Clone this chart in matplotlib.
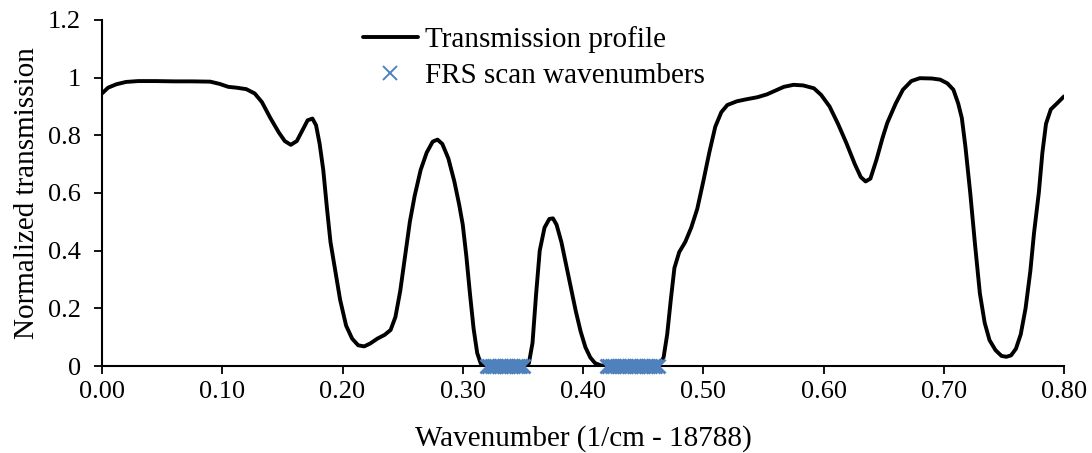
import matplotlib
matplotlib.use("Agg")
import matplotlib.pyplot as plt
from matplotlib.ticker import FormatStrFormatter, FuncFormatter

plt.rcParams['font.family'] = ['Liberation Serif', 'DejaVu Serif']

wavenumber = [0.000, 0.005, 0.012, 0.020, 0.030, 0.045, 0.060, 0.075, 0.090, 0.098,
              0.105, 0.112, 0.120, 0.127, 0.133, 0.140, 0.147, 0.152, 0.157, 0.162,
              0.167, 0.171, 0.175, 0.178, 0.181, 0.184, 0.187, 0.190, 0.194, 0.198,
              0.203, 0.208, 0.213, 0.218, 0.223, 0.229, 0.235, 0.240, 0.244, 0.248,
              0.252, 0.256, 0.260, 0.265, 0.270, 0.275, 0.279, 0.283, 0.288, 0.293,
              0.297, 0.300, 0.303, 0.306, 0.309, 0.312, 0.315, 0.318, 0.352, 0.355,
              0.358, 0.361, 0.364, 0.368, 0.372, 0.375, 0.378, 0.382, 0.386, 0.390,
              0.394, 0.398, 0.402, 0.406, 0.410, 0.415, 0.420, 0.463, 0.467, 0.470,
              0.473, 0.476, 0.480, 0.485, 0.490, 0.495, 0.500, 0.505, 0.510, 0.515,
              0.520, 0.528, 0.536, 0.545, 0.553, 0.560, 0.567, 0.575, 0.583, 0.592,
              0.598, 0.605, 0.612, 0.619, 0.626, 0.631, 0.635, 0.639, 0.644, 0.649,
              0.653, 0.660, 0.666, 0.673, 0.680, 0.690, 0.697, 0.703, 0.708, 0.712,
              0.715, 0.718, 0.722, 0.726, 0.730, 0.734, 0.738, 0.743, 0.748, 0.752,
              0.756, 0.760, 0.764, 0.768, 0.772, 0.775, 0.779, 0.782, 0.785, 0.789,
              0.794, 0.800]
transmission = [0.945, 0.965, 0.977, 0.985, 0.988, 0.988, 0.987, 0.987, 0.986, 0.978,
                0.968, 0.965, 0.960, 0.945, 0.915, 0.860, 0.810, 0.780, 0.767, 0.780,
                0.820, 0.852, 0.858, 0.835, 0.770, 0.680, 0.550, 0.430, 0.330, 0.230,
                0.140, 0.095, 0.072, 0.068, 0.078, 0.095, 0.108, 0.125, 0.170, 0.260,
                0.380, 0.500, 0.590, 0.680, 0.740, 0.778, 0.785, 0.770, 0.720, 0.640,
                0.560, 0.490, 0.380, 0.250, 0.130, 0.045, 0.008, 0.000, 0.000, 0.010,
                0.080, 0.250, 0.400, 0.480, 0.510, 0.512, 0.490, 0.430, 0.350, 0.270,
                0.190, 0.120, 0.065, 0.030, 0.010, 0.002, 0.000, 0.000, 0.030, 0.110,
                0.230, 0.340, 0.395, 0.430, 0.480, 0.545, 0.640, 0.740, 0.830, 0.880,
                0.905, 0.918, 0.925, 0.932, 0.942, 0.955, 0.968, 0.975, 0.973, 0.963,
                0.940, 0.900, 0.840, 0.773, 0.700, 0.655, 0.640, 0.650, 0.715, 0.790,
                0.843, 0.910, 0.958, 0.988, 0.998, 0.997, 0.993, 0.980, 0.958, 0.910,
                0.860, 0.760, 0.600, 0.420, 0.252, 0.150, 0.090, 0.055, 0.035, 0.032,
                0.037, 0.060, 0.110, 0.200, 0.330, 0.460, 0.600, 0.740, 0.840, 0.890,
                0.910, 0.935]

frs_wavenumbers = [0.320, 0.322, 0.324, 0.326, 0.328, 0.330, 0.332, 0.334, 0.336, 0.338,
                   0.340, 0.342, 0.344, 0.346, 0.348, 0.350,
                   0.420, 0.422, 0.424, 0.426, 0.428, 0.430, 0.432, 0.434, 0.436, 0.438,
                   0.440, 0.442, 0.444, 0.446, 0.448, 0.450, 0.452, 0.454, 0.456, 0.458,
                   0.460, 0.462]
frs_transmission = [0.0] * len(frs_wavenumbers)

x_ticks = [0.0, 0.1, 0.2, 0.3, 0.4, 0.5, 0.6, 0.7, 0.8]
y_ticks = [0.0, 0.2, 0.4, 0.6, 0.8, 1.0, 1.2]

fig = plt.figure(figsize=(10.92, 4.53), dpi=100)
ax = fig.add_axes([0.0934, 0.192, 0.881, 0.764])

ax.plot(wavenumber, transmission, color='black', linewidth=2.8,
        solid_joinstyle='round', solid_capstyle='round',
        label='Transmission profile', zorder=2)
ax.plot(frs_wavenumbers, frs_transmission, linestyle='none', marker='x',
        markersize=10.5, markeredgewidth=2.0, color='#4f81bd',
        label='FRS scan wavenumbers', zorder=3, clip_on=False)

ax.set_xlim(0, 0.8)
ax.set_ylim(0, 1.2)
ax.set_xticks(x_ticks)
ax.set_yticks(y_ticks)
ax.xaxis.set_major_formatter(FormatStrFormatter('%.2f'))
ax.yaxis.set_major_formatter(FuncFormatter(lambda v, p: ('%g' % round(v, 2))))

for s in ['top', 'right']:
    ax.spines[s].set_visible(False)
for s in ['left', 'bottom']:
    ax.spines[s].set_linewidth(1.5)
ax.tick_params(direction='out', length=6, width=1.3, labelsize=19)
ax.tick_params(axis='x', pad=5)
ax.tick_params(axis='y', pad=9)

ax.set_xlabel('Wavenumber (1/cm - 18788)', fontsize=21, labelpad=16)
ax.set_ylabel('Normalized transmission', fontsize=21, labelpad=6)

leg = ax.legend(loc='upper left', bbox_to_anchor=(0.332, 0.943),
                bbox_transform=fig.transFigure, frameon=False, fontsize=21,
                handlelength=1.9, handletextpad=0.25, labelspacing=0.35,
                borderaxespad=0, borderpad=0, markerscale=0.9)
for h in leg.legend_handles:
    if h.get_marker() == 'x':
        h.set_markeredgewidth(1.4)

fig.savefig('out.png', dpi=100)
